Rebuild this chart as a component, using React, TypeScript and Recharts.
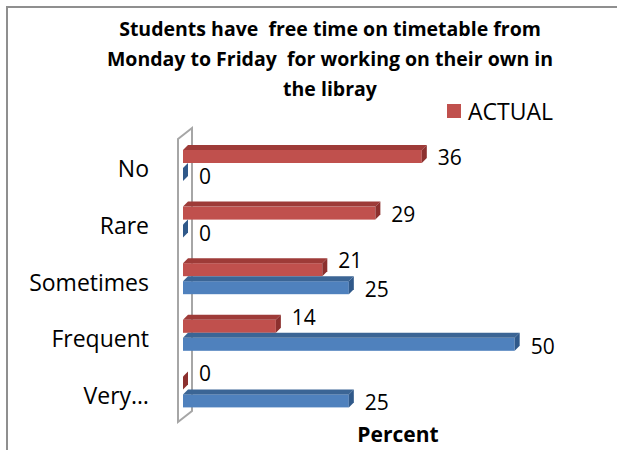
import { BarChart, Bar, XAxis, YAxis, Legend, LabelList, ReferenceLine } from 'recharts';

const categories = ['No', 'Rare', 'Sometimes', 'Frequent', 'Very…'];
const actual = [36, 29, 21, 14, 0];
const expected = [0, 0, 25, 50, 25];
const titleLines = [
    'Students have  free time on timetable from',
    'Monday to Friday  for working on their own in',
    'the libray',
];

const chartData = categories.map((name, i) => ({
    name,
    actual: actual[i],
    expected: expected[i],
}));

const FONT = '"Open Sans", "Noto Sans", sans-serif';
const DEPTH = 5;

// Excel-style 3D bar: front face + top face + right side
function Bar3D(props: any) {
    const { x, y, width, height, front, top, side } = props;
    const d = DEPTH;
    const w = Math.max(0, width);
    return (
        <g>
            <rect x={x} y={y + d} width={w} height={height - d} fill={front} />
            <polygon
                points={`${x},${y + d} ${x + d},${y} ${x + w + d},${y} ${x + w},${y + d}`}
                fill={top}
            />
            <polygon
                points={`${x + w},${y + d} ${x + w + d},${y} ${x + w + d},${y + height - d} ${x + w},${y + height}`}
                fill={side}
            />
        </g>
    );
}

// gray side wall drawn at the value axis origin
function Wall(props: any) {
    const { x1, y1, y2 } = props;
    const top = Math.min(y1, y2);
    const bottom = Math.max(y1, y2);
    const pts = `${x1 - 5},${top + 4} ${x1 + 9},${top - 7} ${x1 + 9},${bottom - 7} ${x1 - 5},${bottom + 4}`;
    return <polygon points={pts} fill="#ffffff" stroke="#a6a6a6" strokeWidth={2} />;
}

function valueLabel(series: 'actual' | 'expected') {
    return (props: any) => {
        const { x, y, width, height, value, index } = props;
        let dy = 4;
        if (series === 'actual') {
            dy = expected[index] > actual[index] ? -7 : 3;
        }
        return (
            <text
                x={x + Math.max(0, width) + 16}
                y={y + height / 2 + dy}
                dominantBaseline="central"
                fontFamily={FONT}
                fontSize={21}
                fill="#000"
            >
                {value}
            </text>
        );
    };
}

export default function App() {
    return (
        <div style={{ position: 'absolute', left: 0, top: 0, width: 617, height: 450, background: '#fff', overflow: 'hidden' }}>
            {/* frame */}
            <div style={{ position: 'absolute', left: 6, top: 6, width: 620, height: 450, borderTop: '2px solid #8f8f8f', borderLeft: '2px solid #8f8f8f' }} />

            <div style={{ position: 'absolute', left: 30, top: 14, width: 600, textAlign: 'center', fontFamily: FONT, fontWeight: 700, fontSize: 19.5, color: '#000' }}>
                {titleLines.map((t, i) => (
                    <div key={i} style={{ height: 30, lineHeight: '30px', whiteSpace: 'pre' }}>{t}</div>
                ))}
            </div>

            <BarChart
                width={617}
                height={450}
                data={chartData}
                layout="vertical"
                margin={{ top: 135, right: 36, bottom: 2, left: 0 }}
                barGap={0}
                barSize={18}
                style={{ position: 'absolute', left: 0, top: 0 }}
            >
                <XAxis
                    type="number"
                    domain={[0, 60]}
                    tick={false}
                    axisLine={false}
                    tickLine={false}
                    height={30}
                    label={{ value: 'Percent', position: 'insideBottom', offset: 6, dx: 16, style: { fontFamily: FONT, fontWeight: 700, fontSize: 21, fill: '#000' } }}
                />
                <YAxis
                    type="category"
                    dataKey="name"
                    width={183}
                    axisLine={false}
                    tickLine={false}
                    tickSize={0}
                    tickMargin={34}
                    tick={{ fontFamily: FONT, fontSize: 23, fill: '#000', dy: 6 }}
                />
                <ReferenceLine x={0} shape={Wall} zIndex={-1} />
                <Legend
                    layout="horizontal"
                    verticalAlign="middle"
                    align="center"
                    wrapperStyle={{ left: 447, top: 95, width: 'auto' }}
                    content={() => (
                        <div style={{ display: 'flex', alignItems: 'center', fontFamily: FONT, fontSize: 23 }}>
                            <span style={{ display: 'inline-block', width: 14, height: 14, background: '#C0504D', marginRight: 7 }} />
                            <span style={{ color: '#000' }}>ACTUAL</span>
                        </div>
                    )}
                />
                <Bar
                    dataKey="actual"
                    name="ACTUAL"
                    isAnimationActive={false}
                    fill="#C0504D"
                    shape={(p: any) => <Bar3D {...p} front="#C0504D" top="#9E3B38" side="#8C302E" />}
                >
                    <LabelList dataKey="actual" content={valueLabel('actual')} />
                </Bar>
                <Bar
                    dataKey="expected"
                    name="EXPECTED"
                    legendType="none"
                    isAnimationActive={false}
                    fill="#4F81BD"
                    shape={(p: any) => <Bar3D {...p} front="#4F81BD" top="#3B6595" side="#30598A" />}
                >
                    <LabelList dataKey="expected" content={valueLabel('expected')} />
                </Bar>
            </BarChart>
        </div>
    );
}
